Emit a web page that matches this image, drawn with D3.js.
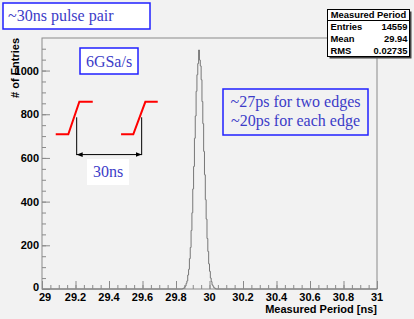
<!DOCTYPE html>
<html>
<head>
<meta charset="utf-8">
<script src="https://cdn.jsdelivr.net/npm/d3@7"></script>
<style>
  html, body { margin: 0; padding: 0; background: #f2f2f2; }
  svg { display: block; }
  .lbl { font-family: "Liberation Sans", Arial, sans-serif; font-weight: bold; font-size: 11px; fill: #000; }
  .note { font-family: "Liberation Serif", "Times New Roman", serif; font-size: 16px; fill: #3c3cc8; }
  .stat { font-family: "Liberation Sans", Arial, sans-serif; font-weight: bold; font-size: 9.4px; fill: #000; }
</style>
</head>
<body>
<div id="chart"></div>
<script>
/* ── Data ──────────────────────────────────────────────────────────────── */
// histogram of measured period, 0.005 ns bins starting at 29.840 ns
const binStart = 29.84;
const binWidth = 0.005;
const counts = [2, 4, 9, 14, 26, 37, 64, 90, 139, 190, 268, 349, 458, 561, 690,
  792, 905, 981, 1032, 1094, 1048, 1021, 958, 858, 757, 630, 523, 409, 320, 231,
  172, 115, 81, 50, 34, 19, 13, 6, 4, 1];

const xTicks = [29, 29.2, 29.4, 29.6, 29.8, 30, 30.2, 30.4, 30.6, 30.8, 31];
const xTickLabels = ['29', '29.2', '29.4', '29.6', '29.8', '30', '30.2', '30.4', '30.6', '30.8', '31'];
const yTicks = [0, 200, 400, 600, 800, 1000];

const statNames = ['Entries', 'Mean', 'RMS'];
const statValues = ['14559', '29.94', '0.02735'];

// sketch of the pulse pair, in axis units (ns, entries)
const pulseX = [[29.082, 29.157, 29.223, 29.303], [29.472, 29.545, 29.617, 29.691]];
const pulseY = [708, 708, 857, 857];
const markerX = [29.207, 29.595];
const markerY = [786, 613];

/* ── Layout ────────────────────────────────────────────────────────────── */
const W = 414, H = 319;
const frame = { left: 42, right: 377, top: 38, bottom: 289 };
const GREY_AXIS = '#8a8a8a';
const BLUE = '#2020ff';

const svg = d3.select('#chart').append('svg')
  .attr('width', W).attr('height', H);

svg.append('rect').attr('width', W).attr('height', H).attr('fill', '#f2f2f2');

const x = d3.scaleLinear().domain([29, 31]).range([frame.left, frame.right]);
const y = d3.scaleLinear().domain([0, 1149]).range([frame.bottom, frame.top]);

// frame
svg.append('rect')
  .attr('x', frame.left).attr('y', frame.top)
  .attr('width', frame.right - frame.left).attr('height', frame.bottom - frame.top)
  .attr('fill', 'none').attr('stroke', GREY_AXIS).attr('stroke-width', 1);

/* ── Histogram (step outline) ──────────────────────────────────────────── */
const steps = [[29, 0], [binStart, 0]];
counts.forEach((c, i) => {
  const x0 = binStart + i * binWidth;
  steps.push([x0, c], [x0 + binWidth, c]);
});
steps.push([binStart + counts.length * binWidth, 0], [31, 0]);

svg.append('path')
  .datum(steps)
  .attr('d', d3.line().x(d => x(d[0])).y(d => y(d[1])))
  .attr('fill', 'none')
  .attr('stroke', '#777777')
  .attr('stroke-width', 1);

/* ── Axes (ticks drawn inside the frame) ───────────────────────────────── */
const xAxis = svg.append('g').attr('transform', `translate(0,${frame.bottom})`);
xAxis.call(d3.axisTop(x).tickValues(d3.range(29, 31.001, 0.05)).tickSize(4).tickFormat(''));
xAxis.call(g => g.append('g').call(d3.axisTop(x).tickValues(xTicks).tickSize(8).tickFormat('')));
xAxis.selectAll('.domain').remove();
xAxis.selectAll('line').attr('stroke', GREY_AXIS);

svg.selectAll('.xlbl')
  .data(xTicks)
  .join('text')
    .attr('class', 'lbl')
    .attr('x', (d, i) => x(d) + (i === 0 ? 3 : 0))
    .attr('y', 301)
    .attr('text-anchor', 'middle')
    .text((d, i) => xTickLabels[i]);

const yAxis = svg.append('g').attr('transform', `translate(${frame.left},0)`);
yAxis.call(d3.axisRight(y).tickValues(d3.range(0, 1149, 50)).tickSize(4).tickFormat(''));
yAxis.call(g => g.append('g').call(d3.axisRight(y).tickValues(yTicks).tickSize(8).tickFormat('')));
yAxis.selectAll('.domain').remove();
yAxis.selectAll('line').attr('stroke', GREY_AXIS);

svg.selectAll('.ylbl')
  .data(yTicks)
  .join('text')
    .attr('class', 'lbl')
    .attr('x', 39)
    .attr('y', d => y(d) + 4 - (d === 0 ? 2 : 0))
    .attr('text-anchor', 'end')
    .text(d => d);

svg.append('text')
  .attr('class', 'lbl')
  .attr('transform', `translate(19,${frame.top}) rotate(-90)`)
  .attr('text-anchor', 'end')
  .text('# of Entries');

svg.append('text')
  .attr('class', 'lbl')
  .attr('x', frame.right).attr('y', 313)
  .attr('text-anchor', 'end')
  .text('Measured Period [ns]');

/* ── Pulse sketch ──────────────────────────────────────────────────────── */
const sketchLine = d3.line().x(d => x(d[0])).y(d => y(d[1]));
pulseX.forEach(px => {
  svg.append('path')
    .datum(px.map((v, i) => [v, pulseY[i]]))
    .attr('d', sketchLine)
    .attr('fill', 'none').attr('stroke', '#ff0000').attr('stroke-width', 2);
});
markerX.forEach(mx => {
  svg.append('line')
    .attr('x1', x(mx)).attr('x2', x(mx))
    .attr('y1', y(markerY[0])).attr('y2', y(markerY[1]))
    .attr('stroke', '#000').attr('stroke-width', 1);
});
const defs = svg.append('defs');
defs.append('marker')
  .attr('id', 'arr').attr('viewBox', '0 0 10 10')
  .attr('refX', 10).attr('refY', 5)
  .attr('markerWidth', 6).attr('markerHeight', 6)
  .attr('orient', 'auto-start-reverse')
  .append('path').attr('d', 'M0,1L10,5L0,9Z').attr('fill', '#000');
svg.append('line')
  .attr('x1', x(markerX[0])).attr('x2', x(markerX[1]))
  .attr('y1', y(markerY[1]) - 0.5).attr('y2', y(markerY[1]) - 0.5)
  .attr('stroke', '#000').attr('stroke-width', 1)
  .attr('marker-start', 'url(#arr)').attr('marker-end', 'url(#arr)');

/* ── Text boxes ────────────────────────────────────────────────────────── */
function noteBox(bx, by, bw, bh, lines, fill, stroke, tx) {
  svg.append('rect')
    .attr('x', bx).attr('y', by).attr('width', bw).attr('height', bh)
    .attr('fill', fill).attr('stroke', stroke).attr('stroke-width', stroke === 'none' ? 0 : 1.5);
  lines.forEach(l => {
    svg.append('text')
      .attr('class', 'note')
      .attr('x', tx != null ? tx : bx + bw / 2)
      .attr('y', l.y)
      .attr('text-anchor', tx != null ? 'start' : 'middle')
      .text(l.t);
  });
}

noteBox(3, 3, 147, 26, [{ t: '~30ns pulse pair', y: 21 }], '#ffffff', BLUE, 8);
noteBox(80, 48, 58, 26, [{ t: '6GSa/s', y: 67 }], '#ffffff', BLUE);
noteBox(223, 89, 145, 46, [{ t: '~27ps for two edges', y: 107 }, { t: '~20ps for each edge', y: 126 }], '#f2f2f2', BLUE);
noteBox(87, 159, 42, 26, [{ t: '30ns', y: 177 }], '#ffffff', 'none');

/* ── Stats box ─────────────────────────────────────────────────────────── */
const sb = { x: 327.5, y: 9.5, w: 82, h: 47 };
svg.append('rect')
  .attr('x', sb.x + 2).attr('y', sb.y + 2).attr('width', sb.w).attr('height', sb.h)
  .attr('fill', '#444');
svg.append('rect')
  .attr('x', sb.x).attr('y', sb.y).attr('width', sb.w).attr('height', sb.h)
  .attr('fill', '#ffffff').attr('stroke', '#000').attr('stroke-width', 1);
svg.append('line')
  .attr('x1', sb.x).attr('x2', sb.x + sb.w).attr('y1', 20.5).attr('y2', 20.5)
  .attr('stroke', '#000').attr('stroke-width', 1);
svg.append('text')
  .attr('class', 'stat').attr('x', sb.x + sb.w / 2).attr('y', 18)
  .attr('text-anchor', 'middle').text('Measured Period');
statNames.forEach((n, i) => {
  const by = 30 + i * 12;
  svg.append('text').attr('class', 'stat').attr('x', sb.x + 3).attr('y', by).text(n);
  svg.append('text').attr('class', 'stat').attr('x', sb.x + sb.w - 2).attr('y', by)
    .attr('text-anchor', 'end').text(statValues[i]);
});
</script>
</body>
</html>
